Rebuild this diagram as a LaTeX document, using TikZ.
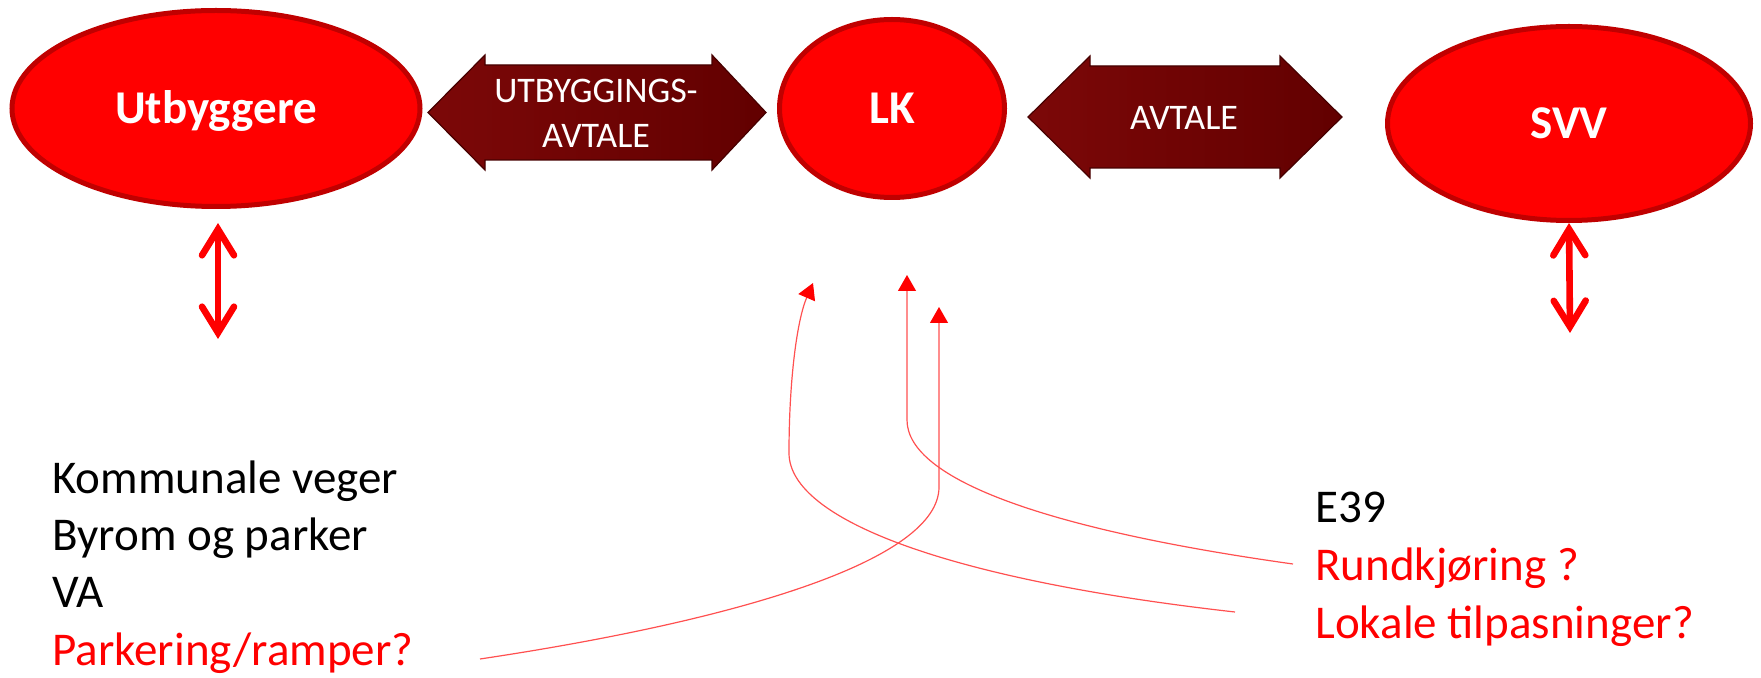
\documentclass[tikz,border=0pt]{standalone}
\usepackage{fontspec}
\setmainfont{Carlito}
\usetikzlibrary{arrows.meta,shapes.geometric}
\definecolor{ellred}{RGB}{255,0,0}
\definecolor{elledge}{RGB}{192,0,0}
\definecolor{arrdark}{RGB}{98,0,0}
\definecolor{arrlight}{RGB}{124,8,8}
\definecolor{arredge}{RGB}{70,0,0}
\definecolor{curvered}{RGB}{255,80,80}
\tikzset{relhead/.tip={Straight Barb[length=13pt,width=16pt,line cap=round,line join=miter]}}
\begin{document}
\begin{tikzpicture}[x=0.5pt,y=-0.5pt,
  party/.style={ellipse, draw=elledge, fill=ellred, line width=2.5pt, inner sep=0pt,
    text=white, font=\fontsize{23.5}{28}\selectfont\bfseries, text height=15pt, text depth=0pt},
  bigarrow/.style={draw=arredge, line width=0.6pt, left color=arrlight, right color=arrdark},
  arrtext/.style={text=white, font=\fontsize{18}{22}\selectfont, inner sep=0pt, anchor=base},
  body/.style={font=\fontsize{23.5}{28}\selectfont, inner sep=0pt, anchor=base west},
  rel/.style={draw=red, line width=3.3pt, {relhead}-{relhead}},
  link/.style={draw=curvered, line width=0.6pt, -{Triangle[length=8pt,width=9pt,color=red]}},
]
\useasboundingbox (0,0) rectangle (1761,678);

% parties
\node[party, minimum width=204pt, minimum height=98pt] (utb) at (216,108.5) {Utbyggere};
\node[party, minimum width=112.5pt, minimum height=89pt] (lk) at (892,108.5) {LK};
\node[party, minimum width=181.5pt, minimum height=97pt] (svv) at (1569,123.5) {SVV};

% agreement arrows
\draw[bigarrow] (428,112.5) -- (485,55) -- (485,65) -- (712,65) -- (712,55) -- (766,112.5)
  -- (712,170) -- (712,160) -- (485,160) -- (485,170) -- cycle;
\node[arrtext] (ua1) at (596,103) {UTBYGGINGS-};
\node[arrtext] (ua2) at (596,148) {AVTALE};

\draw[bigarrow] (1028,117) -- (1090,56) -- (1090,66) -- (1280,66) -- (1280,56) -- (1342,117)
  -- (1280,178) -- (1280,168) -- (1090,168) -- (1090,178) -- cycle;
\node[arrtext] (av) at (1184,130) {AVTALE};

% vertical double arrows
\coordinate (u1) at (218,223);
\coordinate (u2) at (218,339);
\draw[rel] (u1) -- (u2);
\coordinate (s2) at (1570,333);
\draw[rel] (svv.south) -- (s2);

% text lists
\node[body] (k1) at (52,493) {Kommunale veger};
\node[body] (k2) at (52,550) {Byrom og parker};
\node[body] (k3) at (52,607) {VA};
\node[body, text=red] (k4) at (52,665) {Parkering/ramper?};
\node[body] (e1) at (1315,522) {E39};
\node[body, text=red] (e2) at (1315,580) {Rundkjøring ?};
\node[body, text=red] (e3) at (1315,638) {Lokale tilpasninger?};

% curved links
\coordinate (pA) at (1235,612);
\coordinate (tA) at (813,283);
\draw[link] (pA) .. controls (950,580) and (789,520) .. (789,453)
  .. controls (789,380) and (797,320) .. (tA);
\coordinate (pB) at (1293,564);
\coordinate (tB) at (907,275);
\draw[link] (pB) .. controls (1050,530) and (907,480) .. (907,420) -- (tB);
\coordinate (pC) at (480,659);
\coordinate (tC) at (939,307);
\draw[link] (pC) .. controls (740,620) and (939,560) .. (939,487) -- (tC);
\end{tikzpicture}
\end{document}
